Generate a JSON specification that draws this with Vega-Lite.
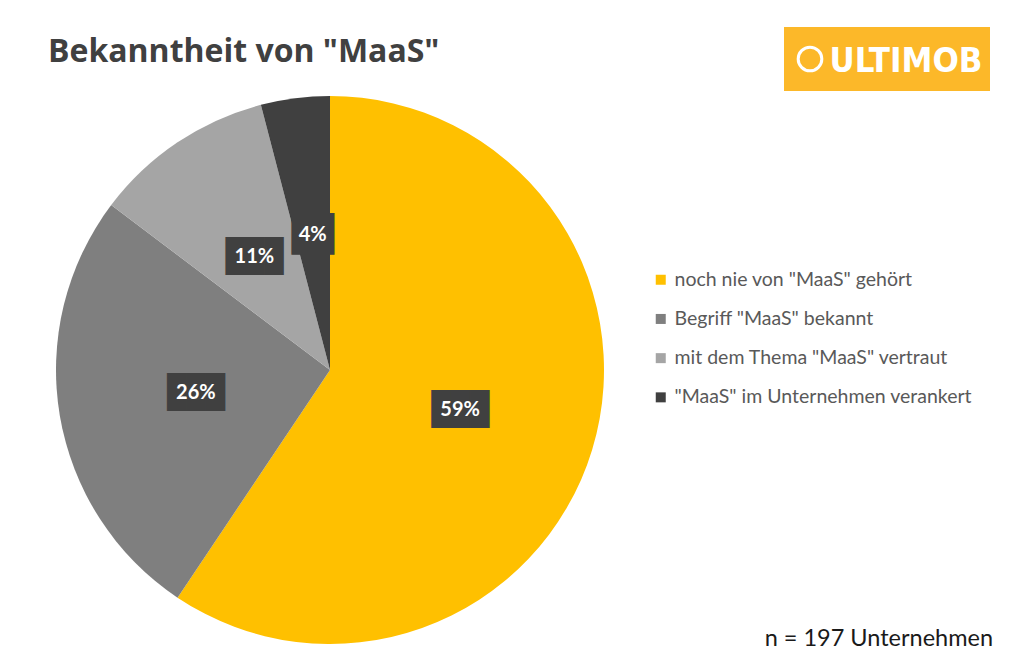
{
  "$schema": "https://vega.github.io/schema/vega-lite/v6.json",
  "width": 642,
  "height": 592,
  "autosize": {"type": "none"},
  "padding": {"left": 9, "top": 74, "right": 367, "bottom": 0},
  "background": "white",
  "config": {"view": {"stroke": null}, "font": "Lato"},
  "title": {
    "text": "Bekanntheit von \"MaaS\"",
    "anchor": "start",
    "frame": "group",
    "dx": 39,
    "dy": 54,
    "offset": 12,
    "font": "Open Sans",
    "fontSize": 32,
    "fontWeight": "bold",
    "color": "#404040"
  },
  "layer": [
    {
      "data": {
        "values": [
          {"cat": "noch nie von \"MaaS\" gehört", "count": 117, "label": "59%", "order": 1},
          {"cat": "Begriff \"MaaS\" bekannt", "count": 51, "label": "26%", "order": 2},
          {"cat": "mit dem Thema \"MaaS\" vertraut", "count": 21, "label": "11%", "order": 3},
          {"cat": "\"MaaS\" im Unternehmen verankert", "count": 8, "label": "4%", "order": 4}
        ]
      },
      "encoding": {
        "theta": {"field": "count", "type": "quantitative", "stack": true},
        "order": {"field": "order", "type": "quantitative", "sort": "ascending"}
      },
      "layer": [
        {
          "mark": {"type": "arc", "outerRadius": 274},
          "encoding": {
            "color": {
              "field": "cat",
              "type": "nominal",
              "sort": null,
              "scale": {
                "domain": ["noch nie von \"MaaS\" gehört", "Begriff \"MaaS\" bekannt", "mit dem Thema \"MaaS\" vertraut", "\"MaaS\" im Unternehmen verankert"],
                "range": ["#FFC000", "#7F7F7F", "#A5A5A5", "#404040"]
              },
              "legend": {
                "title": null,
                "orient": "none",
                "legendX": 642,
                "legendY": 196,
                "symbolType": "square",
                "symbolSize": 100,
                "symbolStrokeWidth": 0,
                "labelFont": "Lato",
                "labelFontSize": 19.5,
                "labelColor": "#595959",
                "labelOffset": 4,
                "rowPadding": 18.2,
                "padding": 0,
                "labelLimit": 400
              }
            }
          }
        },
        {
          "transform": [{"calculate": "length(datum.label) > 2 ? '███' : '██'", "as": "box"}],
          "mark": {"type": "text", "radius": 136, "font": "DejaVu Sans Mono", "fill": "#404040", "baseline": "middle", "align": "center"},
          "encoding": {
            "text": {"field": "box"},
            "size": {"condition": {"test": "length(datum.label) > 2", "value": 32}, "value": 35}
          }
        },
        {
          "mark": {"type": "text", "radius": 136, "font": "Lato", "fontWeight": "bold", "fontSize": 20, "fill": "white", "baseline": "middle", "align": "center"},
          "encoding": {"text": {"field": "label"}}
        }
      ]
    },
    {
      "data": {"values": [{"note": "n = 197 Unternehmen"}]},
      "mark": {"type": "text", "x": 984, "y": 572, "align": "right", "baseline": "alphabetic", "font": "Lato", "fontSize": 23.5, "fill": "#1a1a1a"},
      "encoding": {"text": {"field": "note"}}
    },
    {
      "data": {"values": [{"logo": "ULTIMOB"}]},
      "layer": [
        {"mark": {"type": "rect", "x": 775, "x2": 981, "y": -47, "y2": 17, "fill": "#FCB829"}, "encoding": {}},
        {"mark": {"type": "point", "x": 801, "y": -15, "shape": "circle", "size": 560, "filled": false, "stroke": "white", "strokeWidth": 3, "opacity": 1}, "encoding": {}},
        {"mark": {"type": "text", "x": 897, "y": -2.5, "align": "center", "baseline": "alphabetic", "font": "'DejaVu Sans Condensed', Roboto, sans-serif", "fontWeight": "bold", "fontSize": 34.5, "fill": "white"}, "encoding": {"text": {"field": "logo"}}}
      ]
    },
    {
      "data": {"values": [{"f": 1}]},
      "layer": [
        {"mark": {"type": "rule", "x": -1.5, "x2": 1020, "y": -68, "stroke": "#C0C0C0", "strokeWidth": 2}, "encoding": {}},
        {"mark": {"type": "rule", "x": -0.5, "y": -69, "y2": 600, "stroke": "#C0C0C0", "strokeWidth": 2}, "encoding": {}}
      ]
    }
  ]
}
